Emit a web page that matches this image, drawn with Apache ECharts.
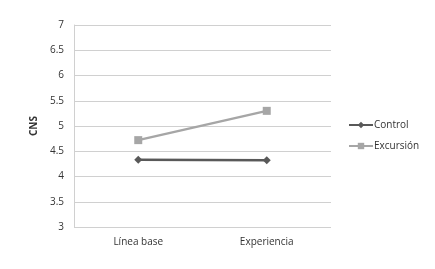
<!DOCTYPE html>
<html><head><meta charset="utf-8">
<script src="https://cdn.jsdelivr.net/npm/echarts@6/dist/echarts.min.js"></script>
<style>html,body{margin:0;padding:0;background:#fff}#c{width:435px;height:269px}</style>
</head><body><div id="c"></div>
<script>
var categories = ['Línea base', 'Experiencia'];
var controlValues = [4.33, 4.32];
var excursionValues = [4.72, 5.3];
var yTicks = [3, 3.5, 4, 4.5, 5, 5.5, 6, 6.5, 7];

var chart = echarts.init(document.getElementById('c'), null, {renderer: 'canvas'});
var font = 'Open Sans';
chart.setOption({
  animation: false,
  backgroundColor: '#fff',
  grid: {left: 74, right: 104, top: 25, bottom: 42},
  legend: {
    orient: 'vertical', left: 348, top: 120, padding: 0, itemWidth: 24, itemHeight: 8, itemGap: 11,
    textStyle: {fontFamily: font, fontSize: 10, color: '#333', padding: [0,0,0,-4]},
    data: ['Control', 'Excursión']
  },
  xAxis: {
    type: 'category', data: categories, boundaryGap: true,
    axisLine: {show: false}, axisTick: {show: false},
    axisLabel: {fontFamily: font, fontSize: 10, color: '#333', margin: 10}
  },
  yAxis: {
    type: 'value', min: 3, max: 7, interval: 0.5,
    name: 'CNS', nameLocation: 'middle', nameRotate: 90, nameGap: 28,
    nameTextStyle: {fontFamily: font, fontSize: 10, fontWeight: 'bold', color: '#333'},
    axisLine: {show: true, lineStyle: {color: '#d0d0d0'}}, axisTick: {show: false},
    axisLabel: {fontFamily: font, fontSize: 10, color: '#333', margin: 10,
      formatter: function (v) { return yTicks.indexOf(v) >= 0 ? String(v) : ''; }},
    splitLine: {lineStyle: {color: '#d0d0d0'}}
  },
  series: [
    {name: 'Control', type: 'line', data: controlValues, symbol: 'diamond', symbolSize: 8,
     lineStyle: {color: '#595959', width: 2.5}, itemStyle: {color: '#595959'}},
    {name: 'Excursión', type: 'line', data: excursionValues, symbol: 'rect', symbolSize: 8,
     lineStyle: {color: '#a6a6a6', width: 2.5}, itemStyle: {color: '#a6a6a6'}}
  ]
});
</script></body></html>
